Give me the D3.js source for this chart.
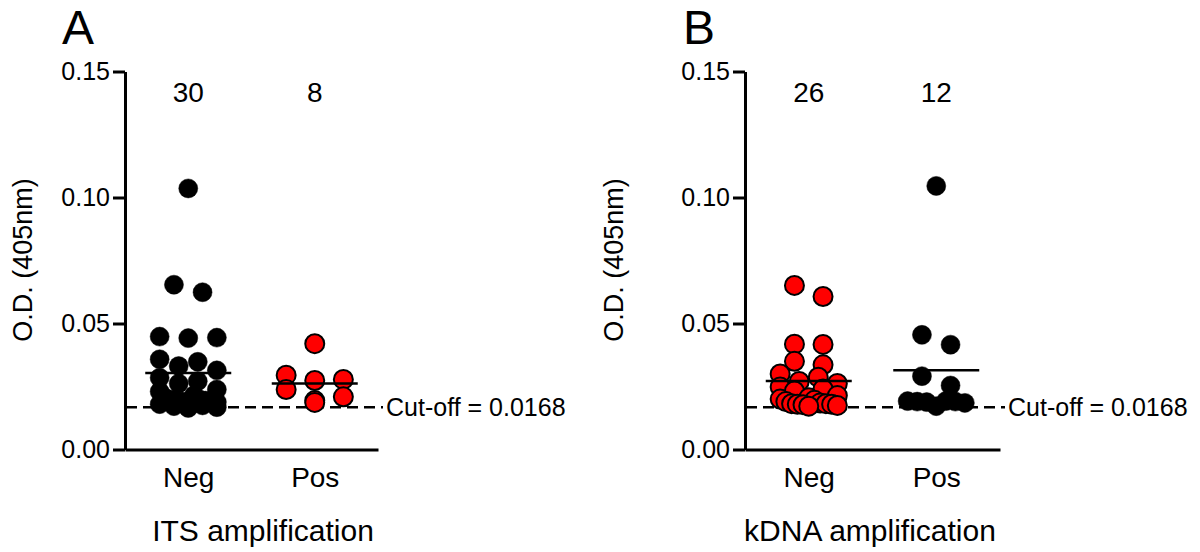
<!DOCTYPE html>
<html><head><meta charset="utf-8">
<script src="https://cdn.jsdelivr.net/npm/d3@7"></script>
<style>
body{margin:0;background:#fff}
svg{display:block}
text{font-family:'Liberation Sans',Arial,Helvetica,sans-serif;fill:#000}
</style></head>
<body>
<svg id="chart" width="1200" height="552"></svg>
<script>
// ---- data ----
const categories = ["Neg", "Pos"];
const panelLetters = ["A", "B"];
const xTitles = ["ITS amplification", "kDNA amplification"];
const countsA = [30, 8];
const countsB = [26, 12];
const yTicks = [0.00, 0.05, 0.10, 0.15];
const cutoff = 0.0168;
const cutoffLabel = "Cut-off = 0.0168";
const yTitle = "O.D. (405nm)";

// Panel A: ITS amplification
const itsNeg = [0.1036, 0.0654, 0.0624, 0.0448, 0.0442, 0.0444, 0.0358, 0.0348, 0.0331, 0.0314,
                0.0285, 0.0271, 0.0262, 0.0238, 0.0230, 0.0215, 0.0205, 0.0198, 0.0196, 0.0194,
                0.0193, 0.0192, 0.0190, 0.0188, 0.0185, 0.0180, 0.0175, 0.0172, 0.0168, 0.0165];
const itsPos = [0.0420, 0.0295, 0.0274, 0.0278, 0.0238, 0.0209, 0.0187, 0.0194];
// Panel B: kDNA amplification
const kdnaNeg = [0.0651, 0.0607, 0.0417, 0.0418, 0.0350, 0.0336, 0.0300, 0.0287, 0.0270, 0.0262,
                 0.0248, 0.0240, 0.0232, 0.0214, 0.0205, 0.0200, 0.0195, 0.0190, 0.0185, 0.0182,
                 0.0182, 0.0180, 0.0180, 0.0178, 0.0175, 0.0172];
const kdnaPos = [0.1046, 0.0455, 0.0416, 0.0291, 0.0254, 0.0192, 0.0192, 0.0190, 0.0190, 0.0188,
                 0.0185, 0.0172];

const negColors = ["#000000", "#ff0000"];
const posColors = ["#ff0000", "#000000"];

// ---- layout ----
const svg = d3.select("#chart");
const axisLeftX = [125, 745];
const axisRightX = [378, 1000];
const letterX = [62, 683];
const yTitleX = [32, 623];
const xTitleX = [263, 870];
const R = 9.5;

const y = d3.scaleLinear().domain([0, 0.15]).range([449.5, 71.5]);

function swarm(values, cx) {
  const items = values.map(v => ({v, py: y(v)})).sort((a, b) => a.py - b.py);
  const rows = [];
  let cur = null;
  items.forEach(it => {
    if (!cur || it.py - cur.start >= 12) { cur = {start: it.py, pts: []}; rows.push(cur); }
    cur.pts.push(it);
  });
  const step = 14.3, maxHalf = 2 * step;
  rows.forEach(row => {
    const n = row.pts.length;
    if (n === 1) { row.pts[0].px = cx; return; }
    let sp = 2 * step;
    if ((n - 1) * sp / 2 > maxHalf) sp = 2 * maxHalf / (n - 1);
    const order = row.pts.map((p, i) => i).sort((a, b) => (a % 2) - (b % 2) || a - b);
    order.forEach((pIdx, slot) => { row.pts[pIdx].px = cx + (slot - (n - 1) / 2) * sp; });
  });
  return items;
}

const groupsPerPanel = [[itsNeg, itsPos], [kdnaNeg, kdnaPos]];
const countsPerPanel = [countsA, countsB];
const colorsPerPanel = [[negColors[0], negColors[1]], [posColors[0], posColors[1]]];

panelLetters.forEach((letter, pi) => {
  const g = svg.append("g");
  const x = d3.scalePoint().domain(categories).range([axisLeftX[pi], axisRightX[pi]]).padding(0.5);

  // panel letter
  g.append("text").attr("x", letterX[pi]).attr("y", 44).attr("font-size", 48).text(letter);

  // cut-off line (under points)
  g.append("line")
    .attr("x1", axisLeftX[pi] + 1).attr("x2", axisRightX[pi] + 5)
    .attr("y1", y(cutoff)).attr("y2", y(cutoff))
    .attr("stroke", "#000").attr("stroke-width", 2.5).attr("stroke-dasharray", "11,6");
  g.append("text").attr("x", axisRightX[pi] + 8).attr("y", y(cutoff)).attr("dy", "0.36em")
    .attr("font-size", 25).text(cutoffLabel);

  // points
  groupsPerPanel[pi].forEach((vals, ci) => {
    const cx = x(categories[ci]);
    const color = colorsPerPanel[pi][ci];
    const pts = swarm(vals, cx);
    g.append("g").selectAll("circle").data(pts).join("circle")
      .attr("cx", d => d.px).attr("cy", d => d.py).attr("r", R)
      .attr("fill", color)
      .attr("stroke", "#000").attr("stroke-width", color === "#000000" ? 0.5 : 2);
    const m = d3.mean(vals);
    g.append("line").attr("x1", cx - 43).attr("x2", cx + 43)
      .attr("y1", y(m)).attr("y2", y(m)).attr("stroke", "#000").attr("stroke-width", 2.5);
    g.append("text").attr("x", cx).attr("y", 102).attr("text-anchor", "middle")
      .attr("font-size", 28).text(countsPerPanel[pi][ci]);
  });

  // y axis
  const ya = g.append("g").attr("transform", `translate(${axisLeftX[pi]},0)`)
    .call(d3.axisLeft(y).tickValues(yTicks).tickFormat(d3.format(".2f")).tickSize(12).tickSizeOuter(0).tickPadding(3));
  ya.selectAll("path,line").attr("stroke", "#000").attr("stroke-width", 3);
  ya.selectAll("text").attr("font-size", 25).attr("font-family", null).attr("fill", "#000");

  // x axis
  const xa = g.append("g").attr("transform", `translate(0,${y(0)})`)
    .call(d3.axisBottom(x).tickSize(0).tickSizeOuter(0).tickPadding(18));
  xa.select(".domain").attr("stroke", "#000").attr("stroke-width", 3);
  xa.selectAll("text").attr("font-size", 28).attr("font-family", null).attr("fill", "#000");

  // titles
  g.append("text").attr("x", xTitleX[pi]).attr("y", 541).attr("text-anchor", "middle")
    .attr("font-size", 30).text(xTitles[pi]);
  g.append("text").attr("transform", `translate(${yTitleX[pi]},260) rotate(-90)`)
    .attr("text-anchor", "middle").attr("font-size", 27).text(yTitle);
});
</script>
</body></html>
